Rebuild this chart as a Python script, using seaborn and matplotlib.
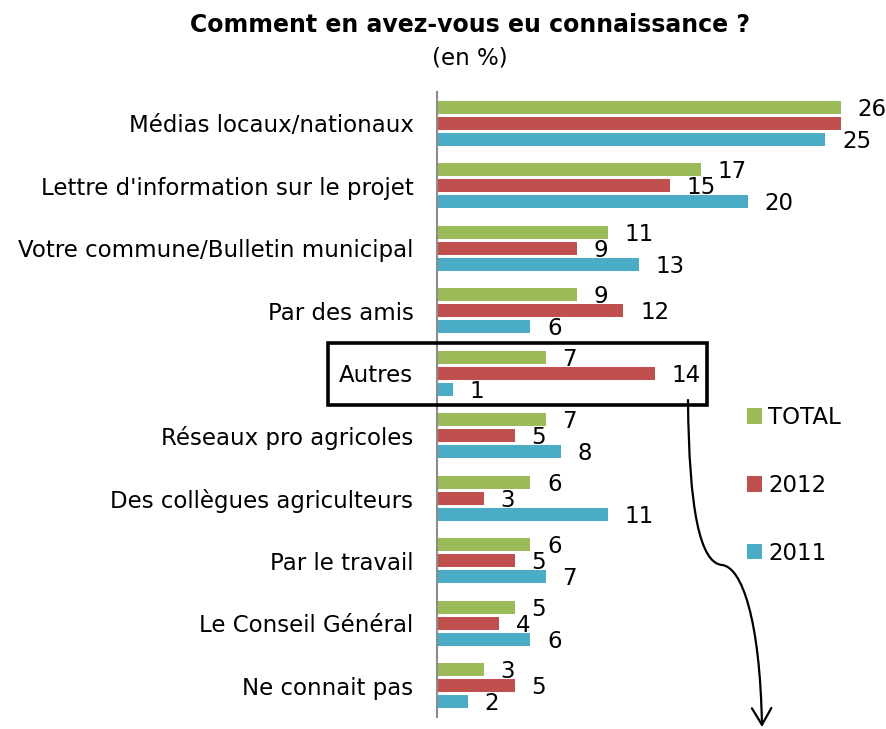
import matplotlib
matplotlib.use("Agg")
import matplotlib.pyplot as plt
from matplotlib.patches import Rectangle, FancyArrowPatch, Patch
from matplotlib.path import Path
import seaborn as sns
import pandas as pd

categories = [
    "Médias locaux/nationaux",
    "Lettre d'information sur le projet",
    "Votre commune/Bulletin municipal",
    "Par des amis",
    "Autres",
    "Réseaux pro agricoles",
    "Des collègues agriculteurs",
    "Par le travail",
    "Le Conseil Général",
    "Ne connait pas",
]
series = ["TOTAL", "2012", "2011"]
total = [26, 17, 11, 9, 7, 7, 6, 6, 5, 3]
y2012 = [26, 15, 9, 12, 14, 5, 3, 5, 4, 5]
y2011 = [25, 20, 13, 6, 1, 8, 11, 7, 6, 2]
colors = ["#9BBB59", "#C0504D", "#4BACC6"]

df = pd.DataFrame({
    "categorie": categories * 3,
    "serie": [s for s in series for _ in categories],
    "valeur": total + y2012 + y2011,
})

sns.set_theme(style="white")
plt.rcParams["font.family"] = ["DejaVu Sans"]
plt.rcParams["text.color"] = "black"
plt.rcParams["legend.labelcolor"] = "black"

FS = 16.5
W, H = 886, 729
fig = plt.figure(figsize=(W / 100, H / 100), dpi=100)
ax = fig.add_axes([437 / W, 12 / H, 435 / W, 625 / H])

sns.barplot(data=df, y="categorie", x="valeur", hue="serie", order=categories,
            hue_order=series, palette=colors, saturation=1, orient="h",
            width=0.77, gap=0.2, ax=ax, legend=False, edgecolor="none")

ax.set_xlim(0, 28)
ax.set_ylim(9.5, -0.5)
ax.set_xlabel("")
ax.set_ylabel("")
ax.set_xticks([])
for s in ["top", "right", "bottom"]:
    ax.spines[s].set_visible(False)
ax.spines["left"].set_color("#8C8C8C")
ax.spines["left"].set_linewidth(1.5)
ax.tick_params(axis="y", length=0, pad=17, labelsize=FS, labelcolor="black")

# value labels at the end of each bar (2012 media value is hidden behind TOTAL's)
values = [total, y2012, y2011]
for i, cont in enumerate(ax.containers):
    labels = [str(v) for v in values[i]]
    if i == 1:
        labels[0] = ""
    texts = ax.bar_label(cont, labels=labels, padding=12, fontsize=FS, color="black")
    for t in texts:
        x, y = t.xyann
        t.xyann = (x, y - 1.5)

fig.text(470 / W, 1 - 25 / H, "Comment en avez-vous eu connaissance ?",
         ha="center", va="center", fontsize=17, fontweight="bold", color="black")
fig.text(470 / W, 1 - 58 / H, "(en %)", ha="center", va="center",
         fontsize=FS, color="black")

handles = [Patch(facecolor=c, edgecolor="none") for c in colors]
fig.legend(handles, series, loc="upper left", bbox_to_anchor=(738 / W, 1 - 397 / H),
           frameon=False, fontsize=FS, handlelength=0.66, handleheight=0.66,
           handletextpad=0.25, labelspacing=1.95, borderaxespad=0)

# highlight box around "Autres"
fig.add_artist(Rectangle((328 / W, 1 - 405 / H), (707 - 328) / W, 62 / H,
                         transform=fig.transFigure, fill=False,
                         edgecolor="black", linewidth=2.6))

def fp(x, y):
    return (x / W, 1 - y / H)

verts = [fp(688, 400), fp(689, 510), fp(700, 563), fp(722, 565),
         fp(742, 567), fp(760, 620), fp(762, 727)]
codes = [Path.MOVETO, Path.CURVE4, Path.CURVE4, Path.CURVE4,
         Path.CURVE4, Path.CURVE4, Path.CURVE4]
arrow = FancyArrowPatch(path=Path(verts, codes), transform=fig.transFigure,
                        arrowstyle="->,head_length=0.6,head_width=0.35",
                        mutation_scale=20, color="black", linewidth=1.6)
fig.add_artist(arrow)

fig.savefig("out.png", dpi=100)
